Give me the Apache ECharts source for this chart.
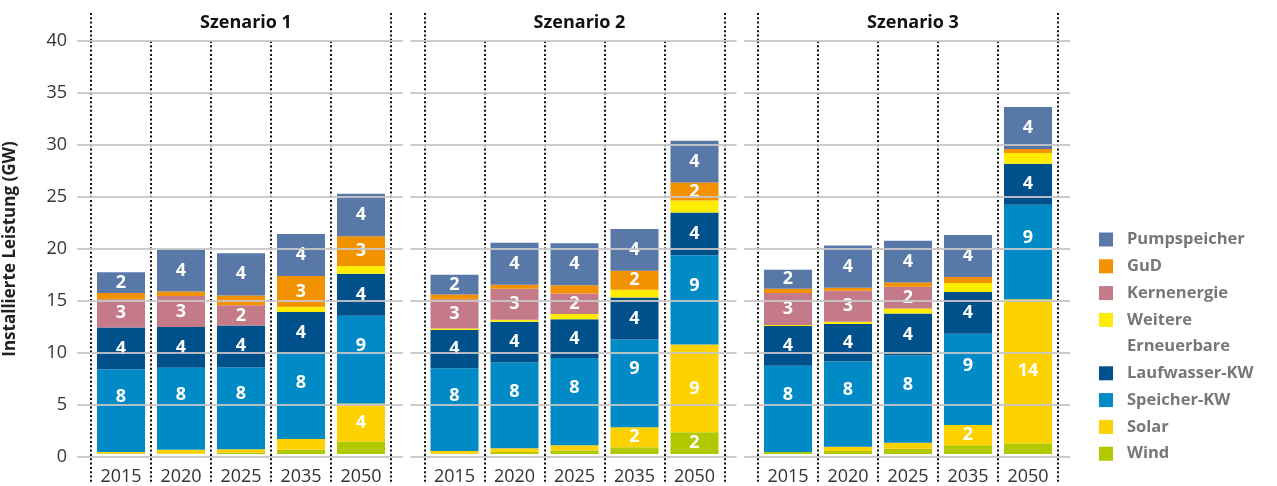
<!DOCTYPE html>
<html>
<head>
<meta charset="utf-8">
<script src="https://cdn.jsdelivr.net/npm/echarts@6/dist/echarts.min.js"></script>
<style>
  html, body { margin: 0; padding: 0; background: #fff; }
  #chart { width: 1277px; height: 486px; }
</style>
</head>
<body>
<div id="chart"></div>
<script>
// Installierte Leistung in GW, je Szenario: 2015, 2020, 2025, 2035, 2050
let years = ['2015', '2020', '2025', '2035', '2050'];
let scenarios = ['Szenario 1', 'Szenario 2', 'Szenario 3'];

let wind        = [[0.05, 0.05, 0.15, 0.4, 1.2],   [0.05, 0.2, 0.35, 0.65, 2.1],  [0.2, 0.3, 0.5, 0.85, 1.05]];
let solar       = [[0.15, 0.35, 0.3, 1.05, 3.7],   [0.25, 0.35, 0.5, 1.95, 8.5],  [0, 0.4, 0.6, 1.95, 13.95]];
let speicherKW  = [[8.0, 7.95, 7.95, 8.25, 8.5],   [8.0, 8.3, 8.45, 8.5, 8.65],   [8.35, 8.25, 8.45, 8.85, 9.15]];
let laufwasser  = [[4.05, 3.95, 4.05, 4.05, 4.05], [3.7, 3.95, 3.75, 4.05, 4.15], [3.85, 3.65, 4.05, 4.05, 3.95]];
let weitere     = [[0, 0, 0, 0.5, 0.75],           [0.15, 0.2, 0.5, 0.75, 1.15],  [0.1, 0.2, 0.5, 0.85, 1.05]];
let kernenergie = [[2.75, 3.0, 1.95, 0, 0],        [2.85, 3.0, 2.0, 0, 0],        [3.1, 3.0, 2.1, 0, 0]];
let gud         = [[0.6, 0.45, 0.95, 3.0, 2.9],    [0.45, 0.4, 0.8, 1.85, 1.75],  [0.4, 0.3, 0.4, 0.6, 0.4]];
let pumpspeicher = [[2.0, 4.05, 4.1, 4.05, 4.1],   [1.9, 4.05, 4.05, 4.05, 4.05], [1.85, 4.1, 4.05, 4.05, 4.05]];

// Stapelreihenfolge von unten nach oben
let stackOrder = [
  {name: 'Wind', data: wind, color: '#b2c800'},
  {name: 'Solar', data: solar, color: '#fdd200'},
  {name: 'Speicher-KW', data: speicherKW, color: '#008bc7', labelShift: -14},
  {name: 'Laufwasser-KW', data: laufwasser, color: '#00508c'},
  {name: 'Weitere Erneuerbare', data: weitere, color: '#ffec00'},
  {name: 'Kernenergie', data: kernenergie, color: '#c57a89'},
  {name: 'GuD', data: gud, color: '#f39200'},
  {name: 'Pumpspeicher', data: pumpspeicher, color: '#5879a8'}
];
let legendOrder = ['Pumpspeicher', 'GuD', 'Kernenergie', 'Weitere Erneuerbare',
                   'Laufwasser-KW', 'Speicher-KW', 'Solar', 'Wind'];

let font = 'Open Sans';
let dotted = {color: '#111', width: 2, type: [2, 2.3]};
let panelLeft = [91, 424.5, 758];   // linke punktierte Linie je Panel
let plotTop = 41, plotHeight = 416;

let grids = [], xAxes = [], yAxes = [], titles = [], series = [];

// 0..2: Balken-Grids
scenarios.forEach(function (s, i) {
  grids.push({left: panelLeft[i], width: 300, top: plotTop, height: plotHeight});
  xAxes.push({
    type: 'category', gridIndex: grids.length - 1, data: years,
    axisLine: {show: false},
    axisTick: {show: true, interval: 0, length: 29, lineStyle: dotted},
    axisLabel: {interval: 0, margin: 14, fontSize: 18, color: '#333', fontFamily: font},
    splitLine: {show: true, interval: 0, lineStyle: dotted}
  });
  yAxes.push({type: 'value', gridIndex: grids.length - 1, min: 0, max: 40, show: false});
});

// 3..5: Gitterlinien-Grids (etwas breiter als die Balkenfläche)
scenarios.forEach(function (s, i) {
  grids.push({left: panelLeft[i] - 14, width: 326, top: plotTop, height: plotHeight});
  xAxes.push({type: 'value', gridIndex: grids.length - 1, min: 0, max: 1, show: false});
  yAxes.push({
    type: 'value', gridIndex: grids.length - 1, min: 0, max: 40, interval: 5, z: 3,
    axisLine: {show: false}, axisTick: {show: false},
    axisLabel: {show: i === 0, fontSize: 18, color: '#333', margin: 10, fontFamily: font},
    splitLine: {lineStyle: {color: '#c6c6c6', width: 2, opacity: 0.9}},
    name: i === 0 ? 'Installierte Leistung (GW)' : '',
    nameLocation: 'middle', nameRotate: 90, nameGap: 58,
    nameTextStyle: {fontSize: 17, fontWeight: 'bold', color: '#222', fontFamily: font}
  });
});

// 6..8: Titelzeile mit den äußeren punktierten Linien
scenarios.forEach(function (s, i) {
  grids.push({left: panelLeft[i], width: 300, top: 13, height: plotTop - 13});
  xAxes.push({
    type: 'value', gridIndex: grids.length - 1, min: 0, max: 1, interval: 1,
    axisLine: {show: false}, axisTick: {show: false}, axisLabel: {show: false},
    splitLine: {show: true, lineStyle: dotted}
  });
  yAxes.push({type: 'value', gridIndex: grids.length - 1, min: 0, max: 1, show: false});
  titles.push({
    text: s, left: panelLeft[i] + 150, top: 9, textAlign: 'center',
    textStyle: {fontSize: 18, fontWeight: 'bold', color: '#111', fontFamily: font}
  });
});

scenarios.forEach(function (s, i) {
  stackOrder.forEach(function (t) {
    series.push({
      type: 'bar', name: t.name, stack: 'sz' + i,
      xAxisIndex: i, yAxisIndex: i,
      barWidth: 48,
      data: t.data[i],
      itemStyle: {color: t.color},
      label: {
        show: true, position: 'inside', color: '#fff',
        offset: [0, t.labelShift || 0],
        fontSize: 18, fontWeight: 'bold', fontFamily: font,
        formatter: function (p) { return p.value >= 1.5 ? String(Math.round(p.value)) : ''; }
      },
      emphasis: {disabled: true}
    });
  });
});

let legendLine = 26.6;
let legendData = legendOrder.map(function (n) {
  if (n === 'Weitere Erneuerbare') {
    return {name: n, textStyle: {padding: [legendLine, 0, 0, 9]}};
  }
  return {name: n};
});

let chart = echarts.init(document.getElementById('chart'));
chart.setOption({
  animation: false,
  textStyle: {fontFamily: font},
  title: titles,
  grid: grids,
  xAxis: xAxes,
  yAxis: yAxes,
  legend: {
    orient: 'vertical', left: 1099, top: 231, padding: 0,
    itemWidth: 14, itemHeight: 14, itemGap: 9.8,
    icon: 'rect',
    data: legendData,
    formatter: function (name) {
      return name === 'Weitere Erneuerbare' ? '{w|Weitere}\n{w|Erneuerbare}' : name;
    },
    textStyle: {
      fontSize: 16.5, fontWeight: 'bold', color: '#777', fontFamily: font,
      padding: [0, 0, 0, 9],
      rich: {
        w: {fontSize: 16.5, fontWeight: 'bold', color: '#777', fontFamily: font, lineHeight: legendLine}
      }
    }
  },
  series: series
});
</script>
</body>
</html>
